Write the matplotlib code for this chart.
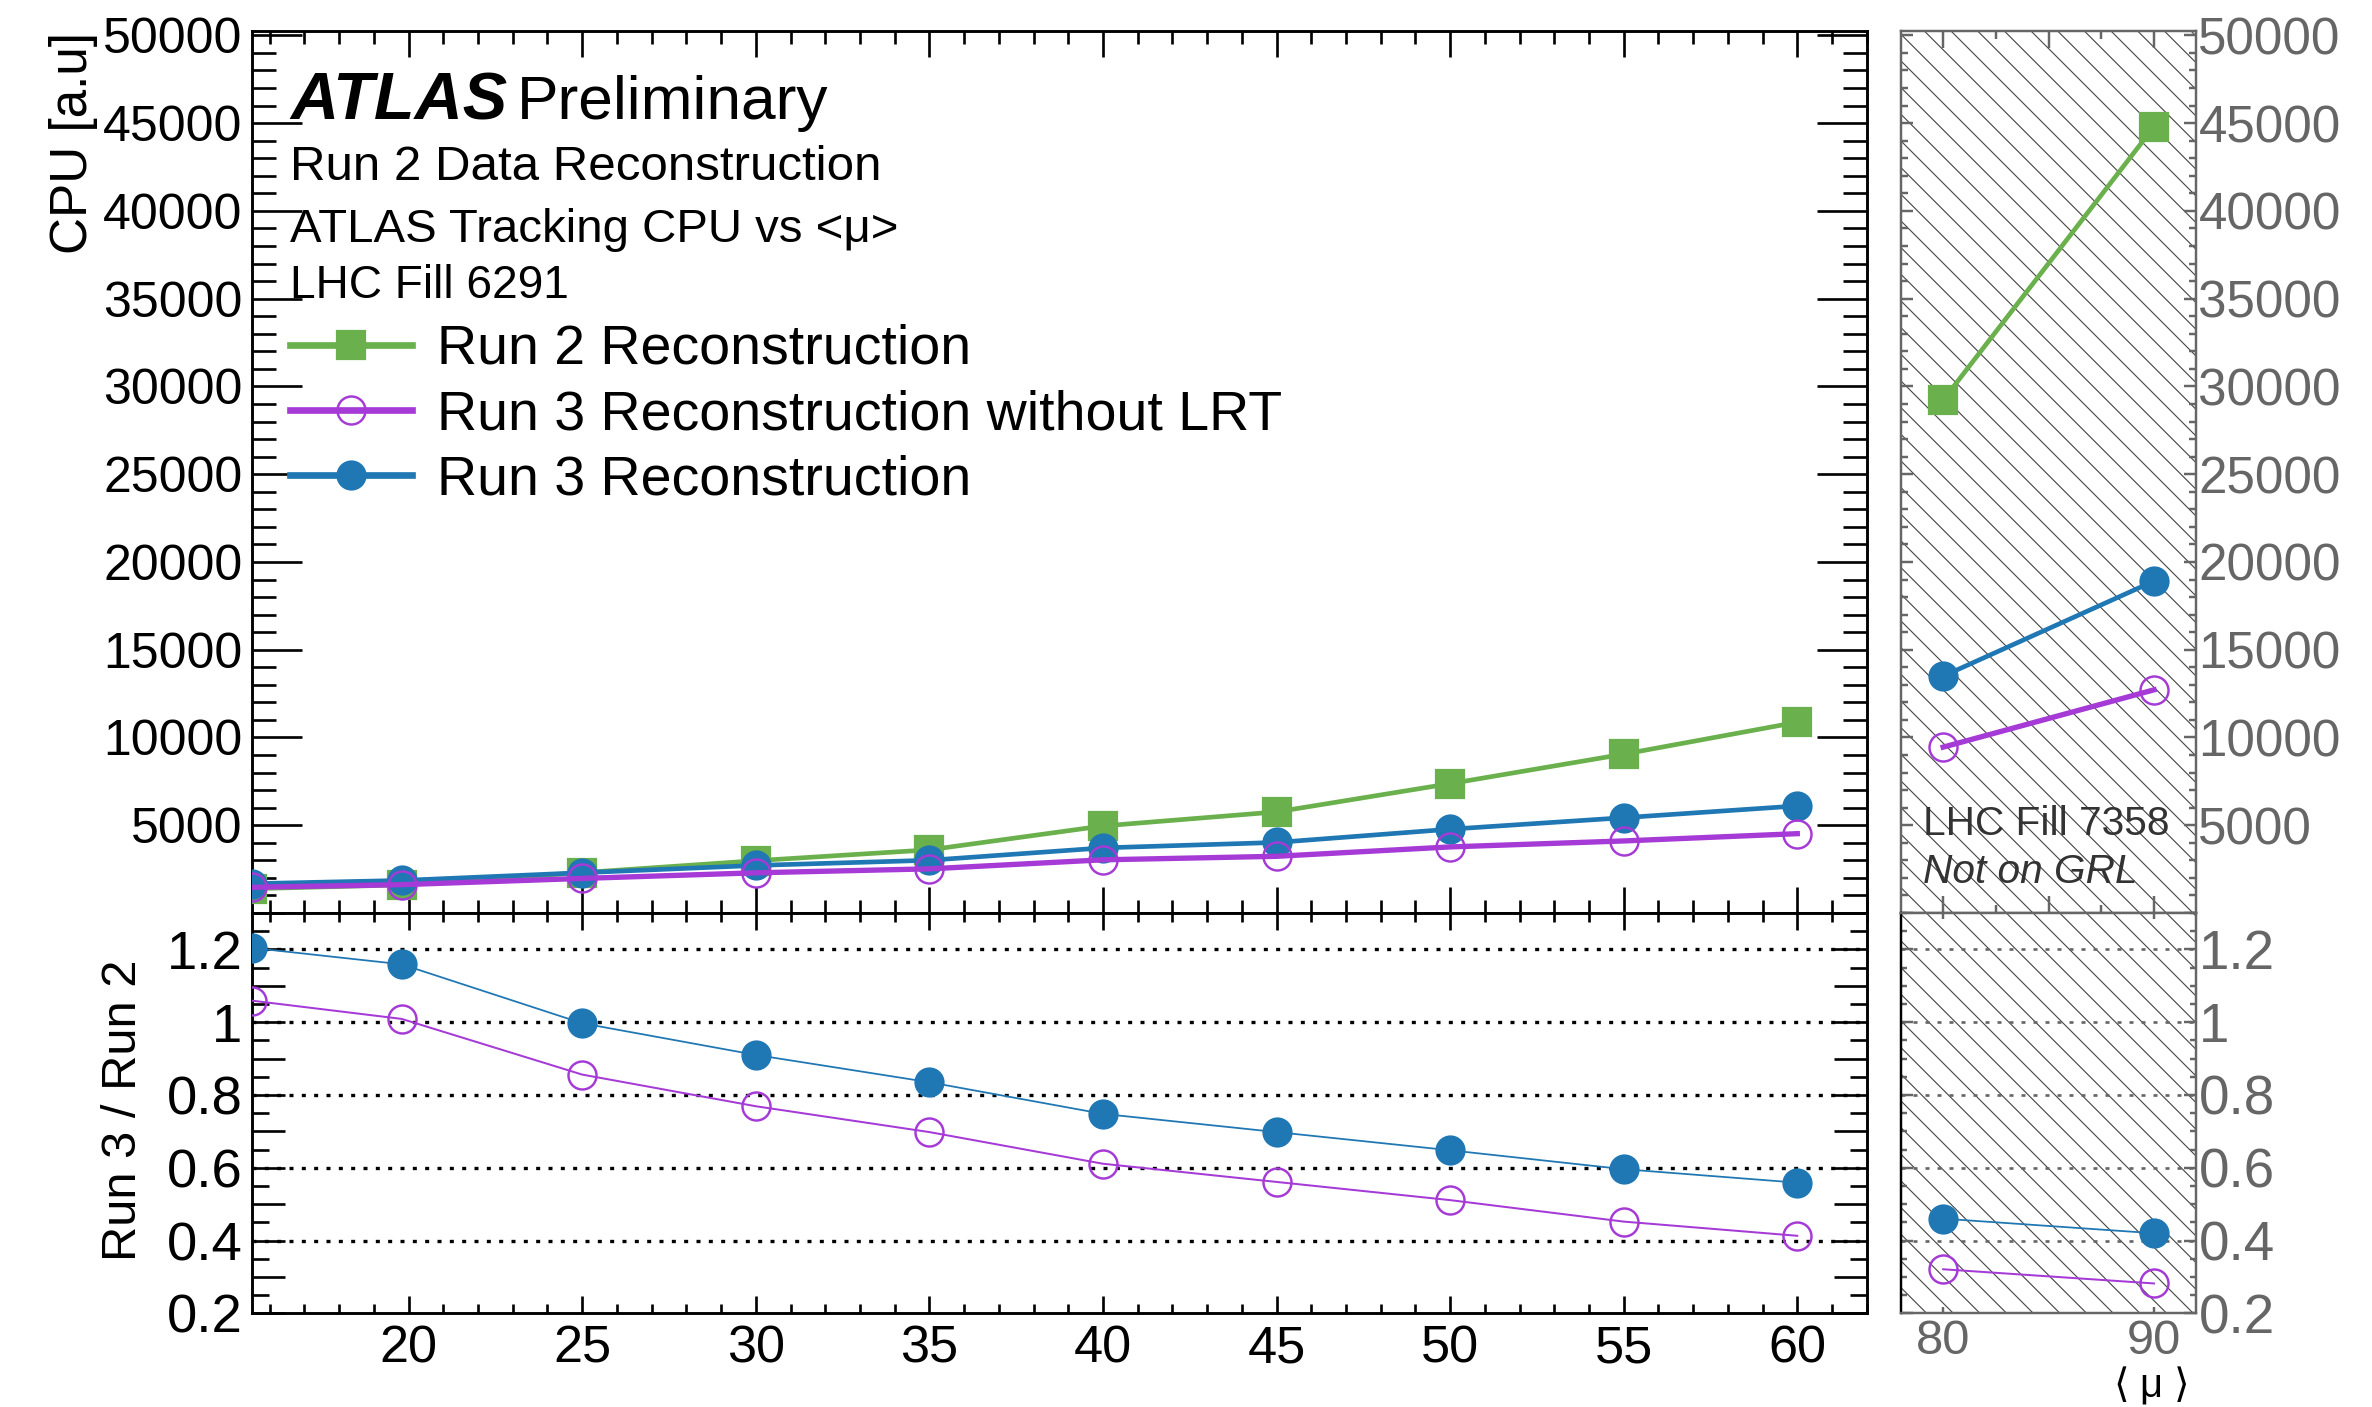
import numpy as np
import matplotlib
matplotlib.use("Agg")
import matplotlib.pyplot as plt
from matplotlib.ticker import MultipleLocator, FixedLocator, FuncFormatter
from matplotlib.patches import Rectangle

plt.rcParams['font.family'] = ['Liberation Sans', 'DejaVu Sans']
plt.rcParams['hatch.linewidth'] = 0.5

# %% data
mu = [15.5, 19.8, 25, 30, 35, 40, 45, 50, 55, 60]
cpu_run2 = [1385, 1600, 2300, 2980, 3600, 4960, 5760, 7370, 9050, 10870]
cpu_run3 = [1670, 1855, 2295, 2710, 3005, 3710, 4020, 4775, 5430, 6100]
cpu_run3_nolrt = [1465, 1615, 1970, 2290, 2515, 3030, 3230, 3765, 4105, 4520]
ratio_run3 = [1.204, 1.159, 0.997, 0.910, 0.835, 0.748, 0.698, 0.648, 0.596, 0.559]
ratio_run3_nolrt = [1.059, 1.009, 0.856, 0.769, 0.698, 0.611, 0.561, 0.511, 0.452, 0.413]

# high-mu fill (not on GRL)
mu_hi = [80, 90]
cpu_run2_hi = [29225, 44800]
cpu_run3_hi = [13495, 18910]
cpu_run3_nolrt_hi = [9450, 12715]
ratio_run3_hi = [0.460, 0.420]
ratio_run3_nolrt_hi = [0.321, 0.282]

ratio_grid = [0.4, 0.6, 0.8, 1.0, 1.2]
x_ticks_main = [20, 25, 30, 35, 40, 45, 50, 55, 60]

labels = ["Run 2 Reconstruction", "Run 3 Reconstruction without LRT", "Run 3 Reconstruction"]

c_green = '#6AB04C'
c_blue = '#1F77B4'
c_purple = '#A53AD6'
c_gray = '#666666'

W, H = 2372, 1407
DPI = 160
fig = plt.figure(figsize=(W / DPI, H / DPI), dpi=DPI)


def fx(px):
    return px / W


def fy(px):
    return 1 - px / H


ax = fig.add_axes([fx(252.4), fy(913), fx(1866.7) - fx(252.4), fy(31) - fy(913)])
axr = fig.add_axes([fx(252.4), fy(1313.3), fx(1866.7) - fx(252.4), fy(913) - fy(1313.3)])
axh = fig.add_axes([fx(1901), fy(913), fx(2196.2) - fx(1901), fy(31) - fy(913)])
axhr = fig.add_axes([fx(1901), fy(1313.3), fx(2196.2) - fx(1901), fy(913) - fy(1313.3)])

# %% main CPU panel
l2, = ax.plot(mu, cpu_run2, '-s', color=c_green, lw=2.1, ms=12.6, zorder=3)
l3, = ax.plot(mu, cpu_run3, '-o', color=c_blue, lw=2.1, ms=12.6, zorder=4)
l3n, = ax.plot(mu, cpu_run3_nolrt, '-o', color=c_purple, lw=2.4, ms=12.6, mfc='none', mew=1.1, zorder=5)

ax.set_xlim(15.5, 62)
ax.set_ylim(0, 50250)
ax.xaxis.set_major_locator(FixedLocator(x_ticks_main))
ax.xaxis.set_minor_locator(MultipleLocator(1))
ax.yaxis.set_major_locator(MultipleLocator(5000))
ax.yaxis.set_minor_locator(MultipleLocator(1000))
ax.yaxis.set_major_formatter(FuncFormatter(lambda v, p: '' if v == 0 else f'{v:.0f}'))
ax.tick_params(which='both', direction='in', top=True, right=True, labelbottom=False, width=1.2)
ax.tick_params(axis='y', which='major', length=22.5, labelsize=22.5, pad=4.5)
ax.tick_params(axis='y', which='minor', length=10.8)
ax.tick_params(axis='x', which='major', length=11.7)
ax.tick_params(axis='x', which='minor', length=5.9)
for s in ax.spines.values():
    s.set_linewidth(1.3)

leg = ax.legend([l2, l3n, l3], labels, loc='upper left', bbox_to_anchor=(fx(290), fy(324)),
                bbox_transform=fig.transFigure, frameon=False, fontsize=25,
                handlelength=2.2, handletextpad=0.45, labelspacing=0.24,
                borderpad=0, borderaxespad=0)
for ln in leg.get_lines():
    ln.set_linewidth(3.0)

fig.text(fx(290), fy(119), "ATLAS", fontsize=30, fontweight='bold', fontstyle='italic', va='baseline')
fig.text(fx(517), fy(119), "Preliminary", fontsize=28, va='baseline')
fig.text(fx(290), fy(180), "Run 2 Data Reconstruction", fontsize=22.2, va='baseline')
fig.text(fx(290), fy(242), "ATLAS Tracking CPU vs <μ>", fontsize=21.3, va='baseline')
fig.text(fx(290), fy(298), "LHC Fill 6291", fontsize=20.7, va='baseline')
fig.text(fx(73), fy(32), "CPU [a.u]", fontsize=23, rotation=90, ha='center', va='top')

# %% ratio panel
axr.plot(mu, ratio_run3, '-o', color=c_blue, lw=0.8, ms=12.6, zorder=4)
axr.plot(mu, ratio_run3_nolrt, '-o', color=c_purple, lw=0.9, ms=12.6, mfc='none', mew=1.1, zorder=5)
for g in ratio_grid:
    axr.axhline(g, color='black', lw=1.5, ls=(0, (1.2, 2.5)), zorder=1)

axr.set_xlim(15.5, 62)
axr.set_ylim(0.2, 1.3)
axr.xaxis.set_major_locator(FixedLocator(x_ticks_main))
axr.xaxis.set_minor_locator(MultipleLocator(1))
axr.yaxis.set_major_locator(MultipleLocator(0.1))
axr.yaxis.set_minor_locator(MultipleLocator(0.05))
axr.yaxis.set_major_formatter(FuncFormatter(
    lambda v, p: f'{round(v, 1):g}' if round(v * 10) % 2 == 0 else ''))
axr.tick_params(which='both', direction='in', top=True, right=True, width=1.2)
axr.tick_params(axis='y', which='major', length=14.9, labelsize=24.5, pad=4.5)
axr.tick_params(axis='y', which='minor', length=7.7)
axr.tick_params(axis='x', which='major', length=7.7, labelsize=23.5, pad=5.0)
axr.tick_params(axis='x', which='minor', length=4)
for s in axr.spines.values():
    s.set_linewidth(1.3)
fig.text(fx(124), fy(1110), "Run 3 / Run 2", fontsize=22, rotation=90, ha='center', va='center')

# %% high-mu panels
for a in (axh, axhr):
    a.add_patch(Rectangle((0, 0), 1, 1, transform=a.transAxes, facecolor='none',
                          edgecolor='#444444', lw=0, hatch='\\\\', zorder=0))
    a.set_xlim(78, 92)
    for s in a.spines.values():
        s.set_color(c_gray)
        s.set_linewidth(1.1)

axh.plot(mu_hi, cpu_run2_hi, '-s', color=c_green, lw=2.1, ms=12.6, zorder=3)
axh.plot(mu_hi, cpu_run3_hi, '-o', color=c_blue, lw=2.1, ms=12.6, zorder=4)
axh.plot(mu_hi, cpu_run3_nolrt_hi, '-o', color=c_purple, lw=2.4, ms=12.6, mfc='none', mew=1.1, zorder=5)
axh.set_ylim(0, 50250)
axh.xaxis.set_major_locator(FixedLocator([80, 85, 90]))
axh.xaxis.set_minor_locator(FixedLocator([82.5, 87.5]))
axh.yaxis.set_major_locator(MultipleLocator(5000))
axh.yaxis.set_minor_locator(MultipleLocator(1000))
axh.yaxis.set_major_formatter(FuncFormatter(lambda v, p: '' if v == 0 else f'{v:.0f}'))
axh.tick_params(which='both', direction='in', top=True, right=True, left=True,
                labelbottom=False, labelleft=False, labelright=True,
                color=c_gray, labelcolor=c_gray, width=1.1)
axh.tick_params(axis='y', which='major', length=5.6, labelsize=23, pad=1.0)
axh.tick_params(axis='y', which='minor', length=3)
axh.tick_params(axis='x', which='major', length=7.7)
axh.tick_params(axis='x', which='minor', length=3.6)
fig.text(fx(1923), fy(835), "LHC Fill 7358", fontsize=18.3, color='#333333', va='baseline')
fig.text(fx(1923), fy(883), "Not on GRL", fontsize=18.3, color='#333333', fontstyle='italic', va='baseline')

axhr.plot(mu_hi, ratio_run3_hi, '-o', color=c_blue, lw=0.8, ms=12.6, zorder=4)
axhr.plot(mu_hi, ratio_run3_nolrt_hi, '-o', color=c_purple, lw=0.9, ms=12.6, mfc='none', mew=1.1, zorder=5)
for g in ratio_grid:
    axhr.axhline(g, color=c_gray, lw=1.2, ls=(0, (1.5, 3.0)), zorder=1)
axhr.spines['left'].set_color('black')
axhr.set_ylim(0.2, 1.3)
axhr.xaxis.set_major_locator(FixedLocator(mu_hi))
axhr.yaxis.set_major_locator(MultipleLocator(0.2))
axhr.yaxis.set_minor_locator(MultipleLocator(0.05))
axhr.yaxis.set_major_formatter(FuncFormatter(lambda v, p: f'{round(v, 1):g}'))
axhr.tick_params(which='both', direction='in', top=True, right=True, left=True,
                 labelleft=False, labelright=True, color=c_gray, labelcolor=c_gray, width=1.1)
axhr.tick_params(axis='y', which='major', length=5.4, labelsize=24.7, pad=1)
axhr.tick_params(axis='y', which='minor', length=2.5)
axhr.tick_params(axis='x', which='major', length=2.5, labelsize=22, pad=2.5)
fig.text(fx(2150), fy(1406), r"$\langle$ μ $\rangle$", fontsize=18, ha='center', va='bottom')

fig.savefig("out.png", dpi=DPI)
